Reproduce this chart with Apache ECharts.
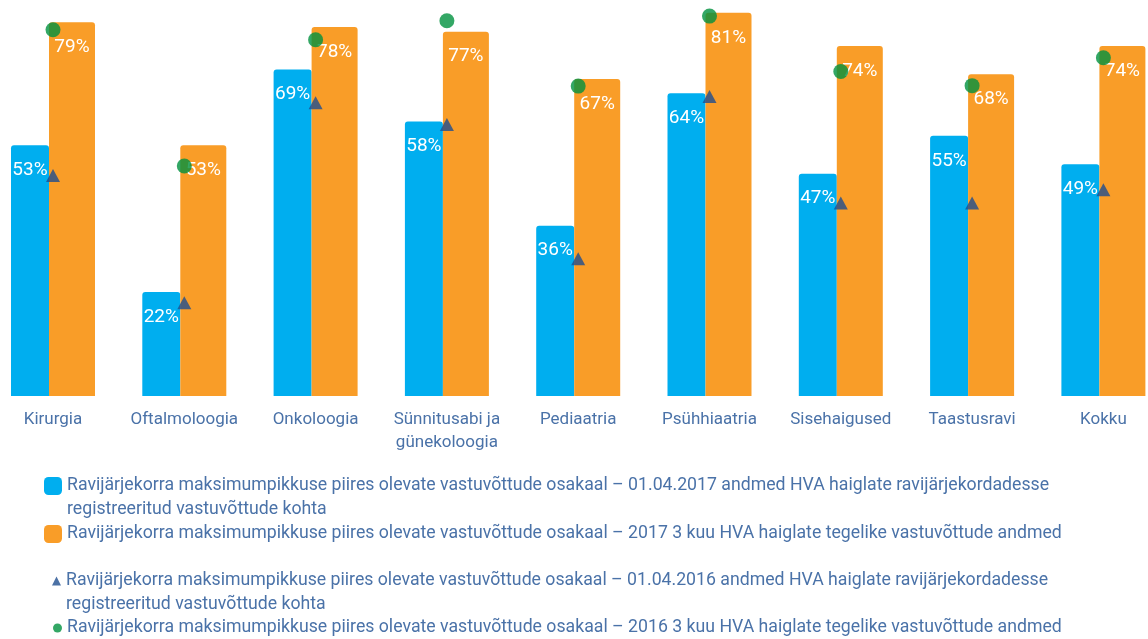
<!DOCTYPE html>
<html>
<head>
<meta charset="utf-8">
<title>Ravijärjekorra maksimumpikkuse piires olevate vastuvõttude osakaal</title>
<script src="https://cdn.jsdelivr.net/npm/echarts@6.0.0/dist/echarts.min.js"></script>
<style>
    html, body { margin: 0; padding: 0; background: #fff; }
    #chart { width: 1148px; height: 639px; }
</style>
</head>
<body>
<div id="chart"></div>
<script>
    // erialad
    var categories = ['Kirurgia', 'Oftalmoloogia', 'Onkoloogia', 'Sünnitusabi ja\ngünekoloogia',
        'Pediaatria', 'Psühhiaatria', 'Sisehaigused', 'Taastusravi', 'Kokku'];

    // 2017 tulbad (%)
    var queue2017 = [53, 22, 69, 58, 36, 64, 47, 55, 49];
    var actual2017 = [79, 53, 78, 77, 67, 81, 74, 68, 74];

    // 2016 markerid (%), loetud pildilt
    var queue2016 = [46.6, 19.7, 62.0, 57.4, 29.0, 63.3, 40.8, 40.8, 43.6];
    var actual2016 = [77.4, 48.6, 75.3, 79.3, 65.5, 80.3, 68.6, 65.6, 71.5];

    var nameQueue2017 = 'Ravijärjekorra maksimumpikkuse piires olevate vastuvõttude osakaal – 01.04.2017 andmed HVA haiglate ravijärjekordadesse\nregistreeritud vastuvõttude kohta';
    var nameActual2017 = 'Ravijärjekorra maksimumpikkuse piires olevate vastuvõttude osakaal – 2017 3 kuu HVA haiglate tegelike vastuvõttude andmed';
    var nameQueue2016 = 'Ravijärjekorra maksimumpikkuse piires olevate vastuvõttude osakaal – 01.04.2016 andmed HVA haiglate ravijärjekordadesse\nregistreeritud vastuvõttude kohta';
    var nameActual2016 = 'Ravijärjekorra maksimumpikkuse piires olevate vastuvõttude osakaal – 2016 3 kuu HVA haiglate tegelike vastuvõttude andmed';

    var textColor = '#4a72a8';
    var fontFamily = 'Roboto, "Liberation Sans", sans-serif';

    var legendText = {
        fontSize: 17.7,
        fontFamily: fontFamily,
        color: textColor,
        lineHeight: 24
    };
    // kaherealine tekst: tühi rida ette, et ikoon jääks esimese rea kõrgusele
    function twoLines(name) {
        return '\n' + name;
    }

    var barLabel = {
        show: true,
        position: 'insideTop',
        distance: 15,
        color: '#fff',
        fontSize: 19,
        lineHeight: 20,
        fontFamily: fontFamily,
        formatter: '{c}%'
    };

    var chart = echarts.init(document.getElementById('chart'));
    chart.setOption({
        animation: false,
        backgroundColor: '#fff',
        grid: {
            left: -12.65,
            width: 1181.7,
            top: 0,
            height: 396,
            outerBoundsMode: 'none'
        },
        legend: [
            {
                left: 44, top: 450, padding: 0, selectedMode: false,
                itemWidth: 18, itemHeight: 18, icon: 'roundRect',
                data: [nameQueue2017], formatter: twoLines, textStyle: legendText
            },
            {
                left: 44, top: 522, padding: 0, selectedMode: false,
                itemWidth: 18, itemHeight: 18, icon: 'roundRect',
                data: [nameActual2017], textStyle: legendText
            },
            {
                left: 52, top: 545, padding: 0, selectedMode: false,
                itemWidth: 9, itemHeight: 9, icon: 'triangle',
                data: [nameQueue2016], formatter: twoLines, textStyle: legendText
            },
            {
                left: 53, top: 616, padding: 0, selectedMode: false,
                itemWidth: 9, itemHeight: 9, icon: 'circle',
                data: [nameActual2016], textStyle: legendText
            }
        ],
        xAxis: {
            type: 'category',
            data: categories,
            axisLine: { show: false },
            axisTick: { show: false },
            axisLabel: {
                margin: 12,
                fontSize: 17,
                lineHeight: 23,
                fontFamily: fontFamily,
                color: textColor,
                interval: 0
            }
        },
        yAxis: {
            type: 'value',
            min: 0,
            max: 83.7,
            show: false
        },
        series: [
            {
                name: nameQueue2017,
                type: 'bar',
                data: queue2017,
                barWidth: 38,
                barGap: '0%',
                itemStyle: { color: '#00aeef', borderRadius: [3, 3, 0, 0] },
                label: barLabel
            },
            {
                name: nameActual2017,
                type: 'bar',
                data: actual2017,
                barWidth: 46,
                barGap: '0%',
                itemStyle: { color: '#f99d28', borderRadius: [3, 3, 0, 0] },
                label: barLabel
            },
            {
                name: nameQueue2016,
                type: 'scatter',
                data: queue2016,
                symbol: 'triangle',
                symbolSize: [14, 13],
                itemStyle: { color: '#1f4e8f' }
            },
            {
                name: nameActual2016,
                type: 'scatter',
                data: actual2016,
                symbol: 'circle',
                symbolSize: 15,
                itemStyle: { color: '#00913f' }
            }
        ]
    });
</script>
</body>
</html>
